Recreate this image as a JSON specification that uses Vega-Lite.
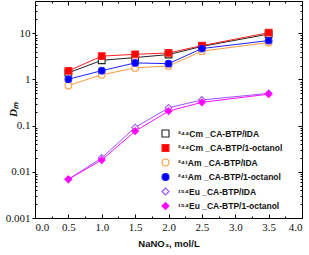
{
  "$schema": "https://vega.github.io/schema/vega-lite/v6.json",
  "width": 267,
  "height": 217,
  "autosize": {"type": "none"},
  "padding": {"left": 35, "top": 1, "right": 7, "bottom": 37},
  "background": "white",
  "config": {
    "view": {"stroke": null},
    "axis": {"grid": false, "domainColor": "#000", "tickColor": "#000", "labelColor": "#111", "domainWidth": 1, "tickWidth": 1},
    "legend": {"orient": "none", "legendX": 126, "legendY": 128, "title": null, "padding": 0,
      "symbolSize": 49, "symbolStrokeWidth": 1.1, "rowPadding": 1.5, "labelOffset": 8,
      "labelFont": "Liberation Sans", "labelFontWeight": "bold", "labelFontSize": 8.5, "labelColor": "#111"}
  },
  "data": {"values": [
    {"x": 0.5, "y": 1.39, "s": "²⁴⁴Cm _CA-BTP/IDA"},
    {"x": 1.0, "y": 2.6, "s": "²⁴⁴Cm _CA-BTP/IDA"},
    {"x": 1.5, "y": 2.98, "s": "²⁴⁴Cm _CA-BTP/IDA"},
    {"x": 2.0, "y": 3.46, "s": "²⁴⁴Cm _CA-BTP/IDA"},
    {"x": 2.5, "y": 5.2, "s": "²⁴⁴Cm _CA-BTP/IDA"},
    {"x": 3.5, "y": 9.6, "s": "²⁴⁴Cm _CA-BTP/IDA"},
    {"x": 0.5, "y": 1.53, "s": "²⁴⁴Cm _CA-BTP/1-octanol"},
    {"x": 1.0, "y": 3.2, "s": "²⁴⁴Cm _CA-BTP/1-octanol"},
    {"x": 1.5, "y": 3.5, "s": "²⁴⁴Cm _CA-BTP/1-octanol"},
    {"x": 2.0, "y": 3.75, "s": "²⁴⁴Cm _CA-BTP/1-octanol"},
    {"x": 2.5, "y": 5.4, "s": "²⁴⁴Cm _CA-BTP/1-octanol"},
    {"x": 3.5, "y": 10.3, "s": "²⁴⁴Cm _CA-BTP/1-octanol"},
    {"x": 0.5, "y": 0.74, "s": "²⁴¹Am _CA-BTP/IDA"},
    {"x": 1.0, "y": 1.26, "s": "²⁴¹Am _CA-BTP/IDA"},
    {"x": 1.5, "y": 1.78, "s": "²⁴¹Am _CA-BTP/IDA"},
    {"x": 2.0, "y": 1.96, "s": "²⁴¹Am _CA-BTP/IDA"},
    {"x": 2.5, "y": 4.1, "s": "²⁴¹Am _CA-BTP/IDA"},
    {"x": 3.5, "y": 6.3, "s": "²⁴¹Am _CA-BTP/IDA"},
    {"x": 0.5, "y": 1.01, "s": "²⁴¹Am _CA-BTP/1-octanol"},
    {"x": 1.0, "y": 1.55, "s": "²⁴¹Am _CA-BTP/1-octanol"},
    {"x": 1.5, "y": 2.28, "s": "²⁴¹Am _CA-BTP/1-octanol"},
    {"x": 2.0, "y": 2.2, "s": "²⁴¹Am _CA-BTP/1-octanol"},
    {"x": 2.5, "y": 4.67, "s": "²⁴¹Am _CA-BTP/1-octanol"},
    {"x": 3.5, "y": 6.95, "s": "²⁴¹Am _CA-BTP/1-octanol"},
    {"x": 0.5, "y": 0.0069, "s": "¹⁵⁴Eu  _CA-BTP/IDA"},
    {"x": 1.0, "y": 0.020, "s": "¹⁵⁴Eu  _CA-BTP/IDA"},
    {"x": 1.5, "y": 0.091, "s": "¹⁵⁴Eu  _CA-BTP/IDA"},
    {"x": 2.0, "y": 0.243, "s": "¹⁵⁴Eu  _CA-BTP/IDA"},
    {"x": 2.5, "y": 0.36, "s": "¹⁵⁴Eu  _CA-BTP/IDA"},
    {"x": 3.5, "y": 0.50, "s": "¹⁵⁴Eu  _CA-BTP/IDA"},
    {"x": 0.5, "y": 0.0069, "s": "¹⁵⁴Eu  _CA-BTP/1-octanol"},
    {"x": 1.0, "y": 0.018, "s": "¹⁵⁴Eu  _CA-BTP/1-octanol"},
    {"x": 1.5, "y": 0.076, "s": "¹⁵⁴Eu  _CA-BTP/1-octanol"},
    {"x": 2.0, "y": 0.206, "s": "¹⁵⁴Eu  _CA-BTP/1-octanol"},
    {"x": 2.5, "y": 0.32, "s": "¹⁵⁴Eu  _CA-BTP/1-octanol"},
    {"x": 3.5, "y": 0.48, "s": "¹⁵⁴Eu  _CA-BTP/1-octanol"}
  ]},
  "resolve": {"axis": {"x": "independent", "y": "independent"}},
  "layer": [
    {
      "mark": {"type": "line", "strokeWidth": 1},
      "encoding": {
        "x": {"field": "x", "type": "quantitative",
          "scale": {"domain": [0, 4], "nice": false, "zero": false},
          "axis": {"orient": "bottom", "title": "NaNO₃, mol/L",
            "values": [0, 0.25, 0.5, 0.75, 1, 1.25, 1.5, 1.75, 2, 2.25, 2.5, 2.75, 3, 3.25, 3.5, 3.75, 4],
            "labelExpr": "datum.value * 2 == round(datum.value * 2) ? format(datum.value, '.1f') : ''",
            "tickSize": {"condition": {"test": "datum.value * 2 == round(datum.value * 2)", "value": -4}, "value": -2},
            "labelFont": "Liberation Serif", "labelFontSize": 11, "labelPadding": 7,
            "titleFont": "Liberation Sans", "titleFontWeight": "bold", "titleFontSize": 9.5, "titlePadding": 6, "titleColor": "#111"}},
        "y": {"field": "y", "type": "quantitative",
          "scale": {"type": "log", "domain": [0.001, 50], "nice": false},
          "axis": {"orient": "left", "title": "Dₘ", "titleX": -22, "titleY": 108, "titleAlign": "center", "titleBaseline": "middle",
            "values": [0.001, 0.002, 0.003, 0.004, 0.005, 0.006, 0.007, 0.008, 0.009, 0.01, 0.02, 0.03, 0.04, 0.05, 0.06, 0.07, 0.08, 0.09, 0.1, 0.2, 0.3, 0.4, 0.5, 0.6, 0.7, 0.8, 0.9, 1, 2, 3, 4, 5, 6, 7, 8, 9, 10, 20, 30, 40, 50],
            "labelExpr": "indexof([0.001, 0.01, 0.1, 1, 10], datum.value) >= 0 ? format(datum.value, '~g') : ''",
            "tickSize": {"condition": {"test": "indexof([0.001, 0.01, 0.1, 1, 10], datum.value) >= 0", "value": 3}, "value": -2},
            "labelFont": "Liberation Serif", "labelFontSize": 11, "labelPadding": 2,
            "titleFont": "Liberation Serif", "titleFontStyle": "italic", "titleFontWeight": "bold", "titleFontSize": 11, "titleColor": "#111"}},
        "stroke": {"field": "s", "type": "nominal",
          "scale": {"domain": ["²⁴⁴Cm _CA-BTP/IDA", "²⁴⁴Cm _CA-BTP/1-octanol", "²⁴¹Am _CA-BTP/IDA", "²⁴¹Am _CA-BTP/1-octanol", "¹⁵⁴Eu  _CA-BTP/IDA", "¹⁵⁴Eu  _CA-BTP/1-octanol"],
            "range": ["#222222", "#ff2020", "#ff9a40", "#2020ff", "#a050ff", "#ff10ff"]}}
      }
    },
    {
      "mark": {"type": "point", "filled": true, "strokeWidth": 1.1, "opacity": 1},
      "encoding": {
        "x": {"field": "x", "type": "quantitative",
          "axis": {"orient": "top", "title": null, "labels": false,
            "values": [0, 0.25, 0.5, 0.75, 1, 1.25, 1.5, 1.75, 2, 2.25, 2.5, 2.75, 3, 3.25, 3.5, 3.75, 4],
            "tickSize": {"condition": {"test": "datum.value * 2 == round(datum.value * 2)", "value": -4}, "value": -2}}},
        "y": {"field": "y", "type": "quantitative",
          "axis": {"orient": "right", "title": null, "labels": false,
            "values": [0.001, 0.002, 0.003, 0.004, 0.005, 0.006, 0.007, 0.008, 0.009, 0.01, 0.02, 0.03, 0.04, 0.05, 0.06, 0.07, 0.08, 0.09, 0.1, 0.2, 0.3, 0.4, 0.5, 0.6, 0.7, 0.8, 0.9, 1, 2, 3, 4, 5, 6, 7, 8, 9, 10, 20, 30, 40, 50],
            "tickSize": {"condition": {"test": "indexof([0.001, 0.01, 0.1, 1, 10], datum.value) >= 0", "value": -4}, "value": -2}}},
        "stroke": {"field": "s", "type": "nominal"},
        "fill": {"field": "s", "type": "nominal",
          "scale": {"domain": ["²⁴⁴Cm _CA-BTP/IDA", "²⁴⁴Cm _CA-BTP/1-octanol", "²⁴¹Am _CA-BTP/IDA", "²⁴¹Am _CA-BTP/1-octanol", "¹⁵⁴Eu  _CA-BTP/IDA", "¹⁵⁴Eu  _CA-BTP/1-octanol"],
            "range": ["#ffffff", "#ff0000", "#ffffff", "#0000ff", "#ffffff", "#ff00ff"]}},
        "shape": {"field": "s", "type": "nominal",
          "scale": {"domain": ["²⁴⁴Cm _CA-BTP/IDA", "²⁴⁴Cm _CA-BTP/1-octanol", "²⁴¹Am _CA-BTP/IDA", "²⁴¹Am _CA-BTP/1-octanol", "¹⁵⁴Eu  _CA-BTP/IDA", "¹⁵⁴Eu  _CA-BTP/1-octanol"],
            "range": ["square", "square", "circle", "circle", "diamond", "diamond"]}},
        "size": {"value": 45}
      }
    }
  ]
}
